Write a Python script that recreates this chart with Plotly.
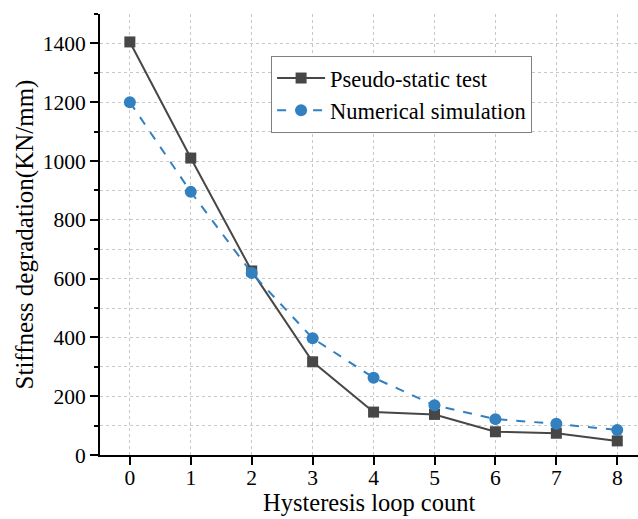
import plotly.graph_objects as go

cycles = [0, 1, 2, 3, 4, 5, 6, 7, 8]
pseudo_static = [1405, 1010, 626, 317, 146, 138, 79, 74, 48]
numerical = [1200, 895, 619, 397, 263, 169, 122, 106, 85]

font_family = "Liberation Serif, Times New Roman, serif"

fig = go.Figure()
fig.add_trace(go.Scatter(
    x=cycles, y=pseudo_static, mode="lines+markers", name="Pseudo-static test",
    line=dict(color="#474747", width=2),
    marker=dict(symbol="square", size=11, color="#474747"),
))
fig.add_trace(go.Scatter(
    x=cycles, y=numerical, mode="lines+markers", name="Numerical simulation",
    line=dict(color="#3280c0", width=2, dash="dash"),
    marker=dict(symbol="circle", size=12, color="#3280c0"),
))

fig.update_layout(
    width=638, height=519,
    margin=dict(l=100, r=0, t=14, b=64),
    paper_bgcolor="white", plot_bgcolor="white",
    font=dict(family=font_family, size=21, color="black"),
    showlegend=True,
    legend=dict(
        x=0.318, y=0.905, xanchor="left", yanchor="top",
        bordercolor="#808080", borderwidth=1, bgcolor="white",
        font=dict(family=font_family, size=22.5, color="black"),
        tracegroupgap=0, itemwidth=48,
    ),
)
fig.add_annotation(
    text="Hysteresis loop count", xref="paper", yref="paper", x=0.5, y=0,
    xanchor="center", yanchor="top", yshift=-32, showarrow=False,
    font=dict(family=font_family, size=24.5, color="black"),
)
fig.update_xaxes(
    range=[-0.49, 8.34], tickmode="array", tickvals=cycles,
    ticks="outside", ticklen=8, tickwidth=2, tickcolor="black",
    showline=True, linecolor="black", linewidth=2,
    showgrid=True, gridcolor="#c8c8c8", griddash="dot", gridwidth=1,
    zeroline=False, automargin=False, ticklabelstandoff=-6,
    tickfont=dict(size=21.5),
)
fig.update_yaxes(
    range=[0, 1500], tickmode="array", tickvals=[0, 200, 400, 600, 800, 1000, 1200, 1400],
    ticks="outside", ticklen=8, tickwidth=2, tickcolor="black",
    showline=True, linecolor="black", linewidth=2,
    showgrid=True, gridcolor="#c8c8c8", griddash="dot", gridwidth=1,
    zeroline=False, automargin=False,
    minor=dict(tickvals=[100, 300, 500, 700, 900, 1100, 1300, 1500], ticks="outside",
               ticklen=4, tickwidth=2, tickcolor="black",
               showgrid=True, gridcolor="#c8c8c8", griddash="dot", gridwidth=1),
    title=dict(text="Stiffness degradation(KN/mm)", font=dict(size=25), standoff=2),
    tickfont=dict(size=21.5),
)

fig.write_html("out.html")
